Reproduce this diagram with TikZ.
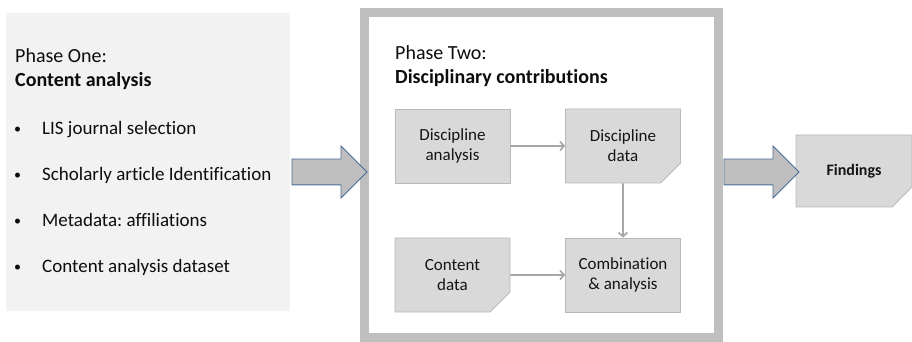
\documentclass[tikz,border=0pt]{standalone}
\usepackage{fontspec}
\setmainfont{Carlito}[Ligatures={NoCommon}]
\usetikzlibrary{arrows.meta,shapes.misc,shapes.arrows}
\frenchspacing

\definecolor{panelgray}{HTML}{F2F2F2}
\definecolor{boxgray}{HTML}{D9D9D9}
\definecolor{edgegray}{HTML}{B8B8B8}
\definecolor{framegray}{HTML}{BFBFBF}
\definecolor{foldgray}{HTML}{ADADAD}
\definecolor{linkgray}{HTML}{A6A6A6}
\definecolor{arrowblue}{HTML}{4A6898}

\begin{document}
\begin{tikzpicture}
    \def\dx{10pt}
    \def\dy{10pt}

    \tikzstyle{panel}=[fill=panelgray,minimum width=28.4*\dx,minimum height=29.8*\dy,inner sep=0pt]
    \tikzstyle{frame}=[draw=framegray,fill=white,line width=9pt,minimum width=35.4*\dx,minimum height=32.55*\dy,inner sep=0pt]
    \tikzstyle{title}=[anchor=base west,inner sep=0pt,text=black!95,font=\fontsize{20}{24}\selectfont]
    \tikzstyle{bullet}=[anchor=base west,inner sep=0pt,text=black!95,font=\fontsize{19}{23}\selectfont]
    \tikzstyle{block}=[draw=edgegray,fill=boxgray,line width=0.8pt,minimum width=11.5*\dx,minimum height=7.4*\dy,align=center,text=black!92,font=\fontsize{17}{20}\selectfont]
    \tikzstyle{note}=[block,chamfered rectangle,chamfered rectangle corners=south east,chamfered rectangle sep=1*\dx,
        path picture={\fill[foldgray] ([xshift=-1*\dx]path picture bounding box.south east)
            -- ([yshift=1*\dx]path picture bounding box.south east)
            -- ([shift={(-0.75*\dx,0.7*\dy)}]path picture bounding box.south east) -- cycle;}]
    \tikzstyle{bigarrow}=[single arrow,draw=arrowblue,fill=framegray,line width=0.8pt,inner sep=0pt,inner ysep=1.25*\dy,
        minimum height=7.5*\dx,single arrow head extend=1.3*\dy]
    \tikzstyle{link}=[draw=linkgray,line width=1.6pt,-{Straight Barb[length=4pt,width=9pt]}]

    \useasboundingbox (0,0) rectangle (91.2*\dx,34.2*\dy);

    % phase one
    \node[panel] (phaseone) at (14.8*\dx,18.0*\dy) {};
    \node[title] (onehead) at (1.5*\dx,27.9*\dy) {Phase One:};
    \node[title,font=\fontsize{20}{24}\selectfont\bfseries] (onename) at (1.5*\dx,25.5*\dy) {Content analysis};
    \foreach \txt [count=\i] in {LIS journal selection,Scholarly article Identification,Metadata: affiliations,Content analysis dataset}
    {
        \node[bullet,font=\fontsize{14}{17}\selectfont] (dot\i) at (1.4*\dx,20.8*\dy-4.6*\i*\dy+4.6*\dy) {\textbullet};
        \node[bullet] (step\i) at (4.2*\dx,20.7*\dy-4.6*\i*\dy+4.6*\dy) {\txt};
    }

    % phase two
    \node[frame] (phasetwo) at (54.15*\dx,16.675*\dy) {};
    \node[title] (twohead) at (39.5*\dx,28.2*\dy) {Phase Two:};
    \node[title,font=\fontsize{20}{24}\selectfont\bfseries] (twoname) at (39.5*\dx,25.8*\dy) {Disciplinary contributions};

    \node[block] (da) at (45.25*\dx,19.6*\dy) {Discipline\\analysis};
    \node[note]  (dd) at (62.3*\dx,19.6*\dy) {Discipline\\data};
    \node[note]  (cd) at (45.25*\dx,6.7*\dy) {Content\\data};
    \node[block] (ca) at (62.3*\dx,6.7*\dy) {Combination\\\& analysis};

    \draw[link] (da) -- (dd);
    \draw[link] (dd) -- (ca);
    \draw[link] (cd) -- (ca);

    % result
    \node[note,minimum width=11.6*\dx,minimum height=7.2*\dy,font=\fontsize{16}{19}\selectfont\bfseries] (findings) at (85.4*\dx,17.1*\dy) {Findings};

    % block arrows between the phases
    \node[bigarrow] (go1) at (32.3*\dx,17.0*\dy) {};
    \node[bigarrow] (go2) at (75.5*\dx,17.0*\dy) {};

\end{tikzpicture}
\end{document}
